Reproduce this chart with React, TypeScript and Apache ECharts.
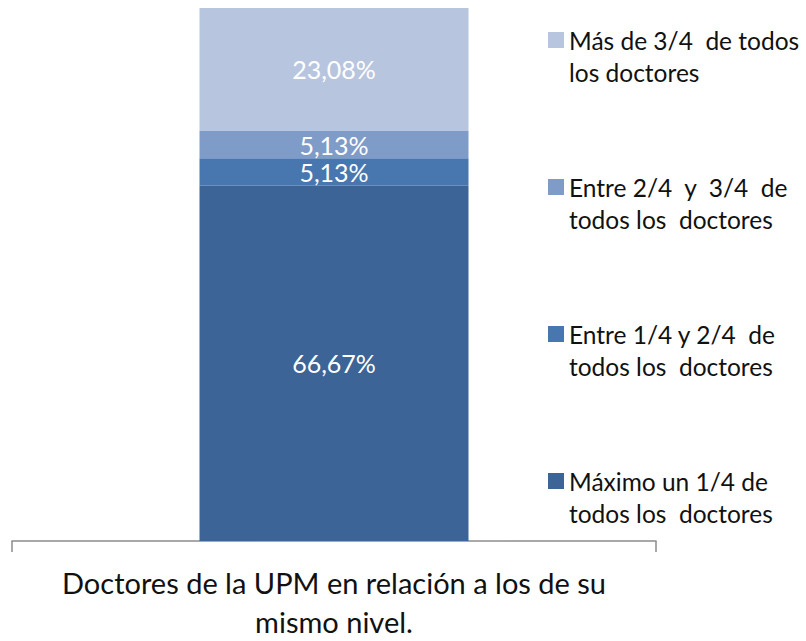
import React, { useEffect, useRef } from "react";
import * as echarts from "echarts";

const categories = ["Doctores de la UPM en relación a los de su\nmismo nivel."];
const seriesNames = [
  "Máximo un 1/4 de\ntodos los  doctores",
  "Entre 1/4 y 2/4  de\ntodos los  doctores",
  "Entre 2/4  y  3/4  de\ntodos los  doctores",
  "Más de 3/4  de todos\nlos doctores",
];
const seriesValues = [[66.67], [5.13], [5.13], [23.08]];
const colors = ["#3C6497", "#4877B0", "#7F9BC8", "#B8C5DF"];

export default function App() {
  const ref = useRef<HTMLDivElement>(null);
  useEffect(() => {
    document.body.style.margin = "0";
    const chart = echarts.init(ref.current!, null, { renderer: "svg" });
    const font = "Lato";
    chart.setOption({
      animation: false,
      textStyle: { fontFamily: font },
      grid: { left: 12, right: 150, top: 8, bottom: 93, containLabel: false },
      legend: {
        orient: "vertical",
        left: 543,
        top: -13,
        itemWidth: 16,
        itemHeight: 16,
        itemGap: 51,
        icon: "rect",
        data: [...seriesNames].reverse(),
        formatter: (n: string) => " \n" + n,
        textStyle: { fontFamily: font, fontSize: 24.5, lineHeight: 32, color: "#111" },
      },
      xAxis: {
        type: "category",
        data: categories,
        axisLine: { lineStyle: { color: "#8c8c8c", width: 1.5 } },
        axisTick: { show: true, length: 11, lineStyle: { color: "#8c8c8c", width: 1.5 } },
        axisLabel: { fontFamily: font, fontSize: 29, lineHeight: 39, color: "#111", margin: 22 },
      },
      yAxis: { type: "value", min: 0, max: 100, show: false, splitLine: { show: false } },
      series: seriesNames.map((name, i) => ({
        name,
        type: "bar",
        stack: "total",
        barWidth: 269,
        data: seriesValues[i],
        itemStyle: { color: colors[i] },
        label: {
          show: true,
          position: "inside",
          color: "#fff",
          fontFamily: font,
          fontSize: 25,
          formatter: (p: any) => p.value.toFixed(2).replace(".", ",") + "%",
        },
      })),
    });
    return () => chart.dispose();
  }, []);
  return <div ref={ref} style={{ width: 806, height: 641 }} />;
}
